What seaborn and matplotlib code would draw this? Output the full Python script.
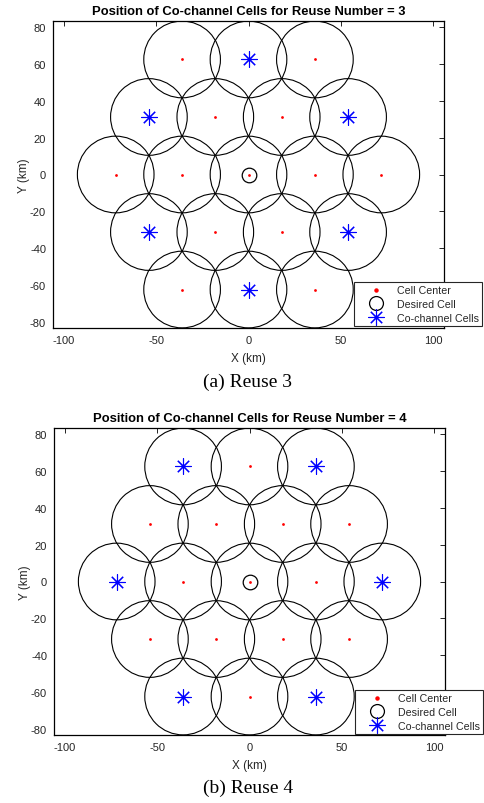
import numpy as np
import pandas as pd
import matplotlib
matplotlib.use("Agg")
import matplotlib.pyplot as plt
from matplotlib.patches import Circle
from matplotlib.lines import Line2D
import seaborn as sns

# ---- data ----
cell_radius = 20.78
cell_x = [0, 36, 72, -36, -72, 18, 54, -18, -54, 18, 54, -18, -54, 0, 36, -36, 0, 36, -36]
cell_y = [0, 0, 0, 0, 0, 31.18, 31.18, 31.18, 31.18, -31.18, -31.18, -31.18, -31.18,
          62.35, 62.35, 62.35, -62.35, -62.35, -62.35]
desired_x = [0]
desired_y = [0]
cochan3_x = [0, 0, 54, 54, -54, -54]
cochan3_y = [62.35, -62.35, 31.18, -31.18, 31.18, -31.18]
cochan4_x = [36, -36, 36, -36, 72, -72]
cochan4_y = [62.35, 62.35, -62.35, -62.35, 0, 0]
reuse_numbers = [3, 4]
captions = ["(a) Reuse 3", "(b) Reuse 4"]
xticks = [-100, -50, 0, 50, 100]
yticks = [-80, -60, -40, -20, 0, 20, 40, 60, 80]
legend_labels = ["Cell Center", "Desired Cell", "Co-channel Cells"]

sns.set_style("white")
plt.rcParams["font.family"] = ["Liberation Sans", "DejaVu Sans"]
plt.rcParams["axes.unicode_minus"] = False

W, H = 484, 804
fig = plt.figure(figsize=(W / 100, H / 100), dpi=100)

gray = (0.15, 0.15, 0.15)
ast = (8, 2, 0)

# axes boxes in pixels: left, top, right, bottom
boxes = [(53, 22, 444, 329), (54, 429, 445, 736)]
titles_y = [12, 419]
caption_y = [382, 788]
legend_box = [(482, 327), (483, 735)]
cochans = [(cochan3_x, cochan3_y), (cochan4_x, cochan4_y)]

cells = pd.DataFrame({"x": cell_x, "y": cell_y})

for i in range(2):
    l, t, r, b = boxes[i]
    ax = fig.add_axes([l / W, 1 - b / H, (r - l) / W, (b - t) / H])
    for cx, cy in zip(cell_x, cell_y):
        ax.add_patch(Circle((cx, cy), cell_radius, fill=False, ec="black", lw=0.8, zorder=2))
    sns.scatterplot(data=cells, x="x", y="y", ax=ax, color="red", marker="o",
                    s=4, linewidth=0, zorder=3, legend=False)
    ax.plot(desired_x, desired_y, linestyle="none", marker="o", ms=10.5,
            mfc="none", mec="black", mew=0.9, zorder=4)
    cxs, cys = cochans[i]
    ax.plot(cxs, cys, linestyle="none", marker=ast, ms=11.5, color="blue",
            mew=0.8, zorder=5)
    ax.set_xlim(-106, 106)
    ax.set_ylim(-83.2, 83.2)
    ax.set_xticks(xticks)
    ax.set_yticks(yticks)
    ax.tick_params(direction="in", length=3.5, width=0.6, top=True, right=True,
                   labelsize=8, colors=gray, pad=5)
    ax.tick_params(axis="both", labelcolor=gray, color="black")
    for s in ax.spines.values():
        s.set_color("black")
        s.set_linewidth(0.9)
    ax.set_xlabel("X (km)", fontsize=8.5, color=gray, labelpad=5)
    ax.set_ylabel("Y (km)", fontsize=8.5, color=gray, labelpad=0)
    fig.text((l + r) / 2 / W, 1 - titles_y[i] / H,
             f"Position of Co-channel Cells for Reuse Number = {reuse_numbers[i]}",
             ha="center", va="center", fontsize=9.4, fontweight="bold", color="black")
    fig.text(248 / W, 1 - caption_y[i] / H, captions[i], ha="center", va="center",
             fontsize=14, family=["Liberation Serif", "DejaVu Serif"], color="black")

    handles = [
        Line2D([], [], linestyle="none", marker="o", ms=2.2, color="red"),
        Line2D([], [], linestyle="none", marker="o", ms=10, mfc="none", mec="black", mew=0.9),
        Line2D([], [], linestyle="none", marker=ast, ms=11.5, color="blue", mew=0.8),
    ]
    lx, ly = legend_box[i]
    leg = ax.legend(handles, legend_labels, loc="lower right",
                    bbox_to_anchor=(lx / W, 1 - ly / H), bbox_transform=fig.transFigure,
                    fontsize=7.7, frameon=True, fancybox=False, framealpha=1,
                    edgecolor=gray, handlelength=3.5, handletextpad=0.2,
                    labelspacing=0.35, borderpad=0.3, borderaxespad=0)
    leg.get_frame().set_linewidth(0.8)
    leg.set_zorder(10)
    leg.set_clip_on(False)

fig.savefig("out.png", dpi=100)
